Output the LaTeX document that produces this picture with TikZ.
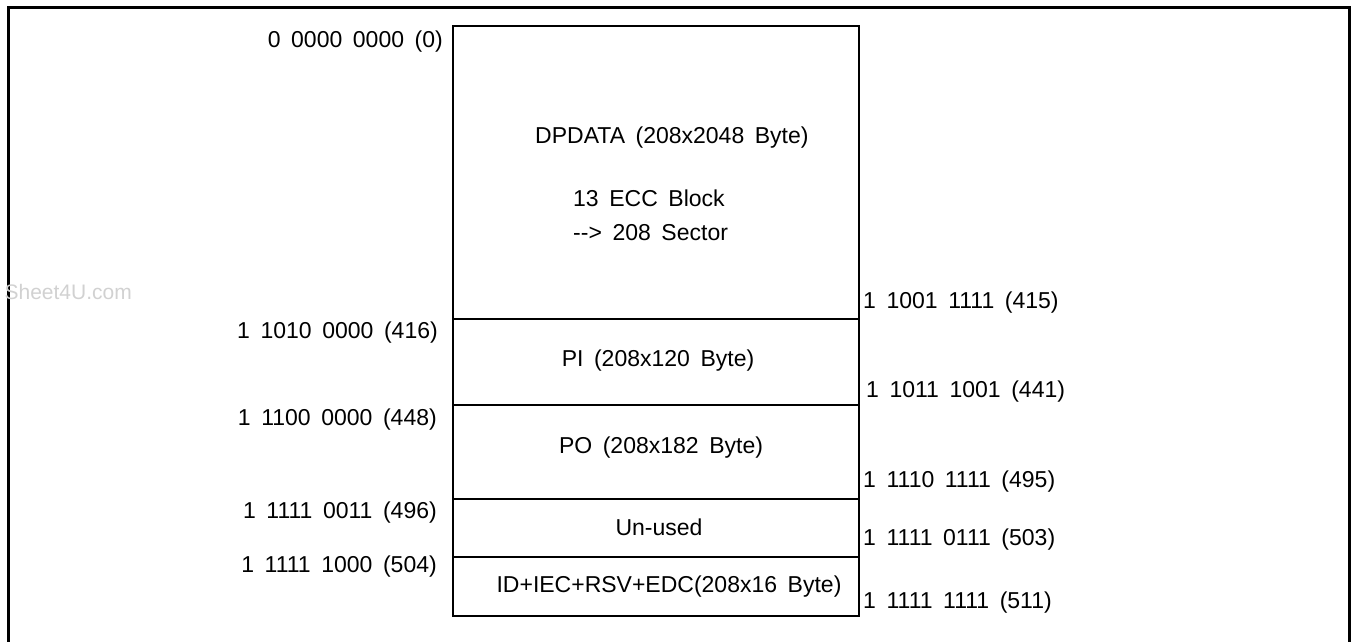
\documentclass[tikz,border=0pt]{standalone}
\usepackage{fontspec}
\setmainfont{Liberation Sans}
\usetikzlibrary{positioning}
\newcommand\widesp{\spaceskip=0.46em\relax}
\tikzset{
  seg/.style={draw, rectangle, line width=2pt, minimum width=406pt, inner sep=0pt, anchor=north west},
  txt/.style={font={\fontsize{23}{27}\selectfont\widesp}, inner sep=0pt},
  laddr/.style={txt, anchor=east},
  raddr/.style={txt, anchor=west},
  wmark/.style={font=\fontsize{21}{25}\selectfont, text=black!18, inner sep=0pt, anchor=east},
}
\begin{document}
\begin{tikzpicture}[x=1pt,y=-1pt]
\useasboundingbox (0,0) rectangle (1351,642);
% outer frame, open at the bottom
\draw[line width=3pt] (8,642) -- (8,8) -- (1349,8) -- (1349,642);
\node[wmark] (wm) at (132,292) {Sheet4U.com};
% memory map
\node[seg, minimum height=293pt] (dpdata) at (452,25) {};
\node[seg, minimum height=86pt] (pi) at (452,318) {};
\node[seg, minimum height=94pt] (po) at (452,404) {};
\node[seg, minimum height=58pt] (unused) at (452,498) {};
\node[seg, minimum height=59pt] (idf) at (452,556) {};
\node[txt, anchor=west] (tdp) at (535,138) {DPDATA (208x2048 Byte)};
\node[txt, anchor=west] (tecc) at (573,198) {13 ECC Block};
\node[txt, anchor=west] (tsec) at (573,233) {-{}-> 208 Sector};
\node[txt] (tpi) at (658,361) {PI (208x120 Byte)};
\node[txt] (tpo) at (661,448) {PO (208x182 Byte)};
\node[txt] (tun) at (659,527) {Un-used};
\node[txt] (tid) at (669,587) {ID+IEC+RSV+EDC(208x16 Byte)};
% start addresses
\node[laddr] (a0) at (443,42) {0 0000 0000 (0)};
\node[laddr] (a416) at (438,333) {1 1010 0000 (416)};
\node[laddr] (a448) at (437,420) {1 1100 0000 (448)};
\node[laddr] (a496) at (437,513) {1 1111 0011 (496)};
\node[laddr] (a504) at (437,567) {1 1111 1000 (504)};
% end addresses
\node[raddr] (a415) at (863,303) {1 1001 1111 (415)};
\node[raddr] (a441) at (866,392) {1 1011 1001 (441)};
\node[raddr] (a495) at (863,482) {1 1110 1111 (495)};
\node[raddr] (a503) at (863,540) {1 1111 0111 (503)};
\node[raddr] (a511) at (863,603) {1 1111 1111 (511)};
\end{tikzpicture}
\end{document}
